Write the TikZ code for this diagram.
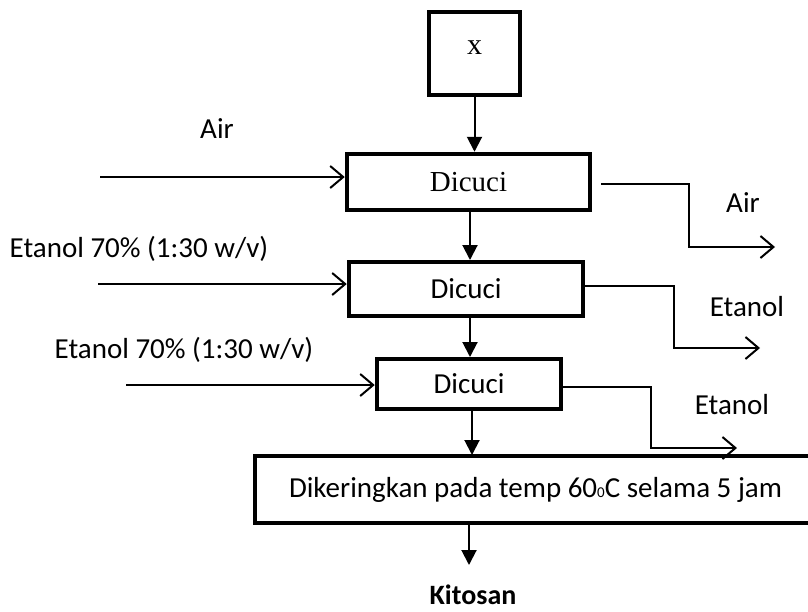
\documentclass[tikz,border=0pt]{standalone}
\usepackage{fontspec}
\setmainfont{Carlito}
\newfontfamily\tnr{Liberation Serif}
\usetikzlibrary{arrows.meta}
\begin{document}
\begin{tikzpicture}[x=1pt,y=-1pt,
  box/.style={draw,line width=4.5pt,inner sep=0pt,font=\fontsize{29}{34}\selectfont},
  lbl/.style={inner sep=0pt,font=\fontsize{29}{34}\selectfont},
  flow/.style={line width=2pt,-{Triangle[length=15pt,width=15pt]}},
  feed/.style={line width=2pt,-{Straight Barb[length=13pt,width=22pt,line width=2pt]}}]
\useasboundingbox (0,0) rectangle (808,611);
% boxes
\node[box,minimum width=91pt,minimum height=83pt,text depth=12pt,font=\fontsize{30}{34}\selectfont\tnr] (xb) at (474.5,53.5) {x};
\node[box,minimum width=243pt,minimum height=56pt,font=\fontsize{29}{34}\selectfont\tnr] (d1) at (468.5,182) {Dicuci};
\node[box,minimum width=234pt,minimum height=54pt] (d2) at (466,289) {Dicuci};
\node[box,minimum width=184pt,minimum height=50pt] (d3) at (469,384) {Dicuci};
\node[box,minimum width=561pt,minimum height=67pt] (fin) at (535.5,489.5) {Dikeringkan pada temp 60{\fontsize{15}{15}\selectfont 0}C selama 5 jam};
\node[lbl,font=\fontsize{28}{32}\selectfont\bfseries] (kit) at (473,595) {Kitosan};
% vertical flow
\draw[flow] (xb.south) -- (xb.south |- d1.north);
\draw[flow] (470,212) -- (470,260);
\draw[flow] (470,318) -- (470,357);
\draw[flow] (472,411) -- (472,455);
\draw[flow] (469,523) -- (469,565);
% inputs
\coordinate (s1) at (100,177);
\coordinate (s2) at (98,284);
\coordinate (s3) at (126,385);
\draw[feed] (s1) -- (s1 -| d1.west);
\draw[feed] (s2) -- (s2 -| d2.west);
\draw[feed] (s3) -- (s3 -| d3.west);
\node[lbl] (la) at (217,129) {Air};
\node[lbl] (lb) at (139,249) {Etanol 70\% (1:30 w/v)};
\node[lbl] (lc) at (184,350) {Etanol 70\% (1:30 w/v)};
% outputs
\coordinate (o1) at (601,184);
\coordinate (e1) at (775,247);
\coordinate (o2) at (d2.east |- 0,286);
\coordinate (e2) at (760,348);
\coordinate (o3) at (d3.east |- 0,387);
\coordinate (e3) at (737,448);
\draw[feed] (o1) -- (689,184) -- (689,247) -- (e1);
\draw[feed] (o2) -- (674,286) -- (674,348) -- (e2);
\draw[feed] (o3) -- (651,387) -- (651,448) -- (e3);
\node[lbl] (ra) at (743,203) {Air};
\node[lbl] (rb) at (747,307) {Etanol};
\node[lbl] (rc) at (732,405) {Etanol};
\end{tikzpicture}
\end{document}
